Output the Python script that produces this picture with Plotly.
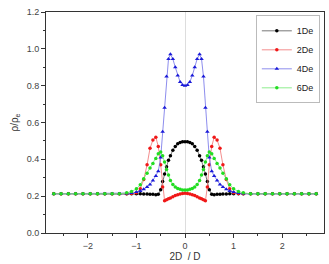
import plotly.graph_objects as go

# shared abscissa 2D/D
x_vals = [-2.70, -2.55, -2.40, -2.25, -2.10, -1.95, -1.80, -1.65, -1.50, -1.35, -1.20, -1.10,
          -1.00, -0.92, -0.85, -0.78, -0.72, -0.66, -0.60, -0.55, -0.50, -0.46, -0.42, -0.38,
          -0.34, -0.30, -0.25, -0.20, -0.15, -0.10, -0.05, 0.00,
          0.05, 0.10, 0.15, 0.20, 0.25, 0.30, 0.34, 0.38, 0.42, 0.46, 0.50, 0.55, 0.60, 0.66,
          0.72, 0.78, 0.85, 0.92, 1.00, 1.10, 1.20, 1.35, 1.50, 1.65, 1.80, 1.95, 2.10, 2.25,
          2.40, 2.55, 2.70]

y_1de = [0.213, 0.213, 0.213, 0.213, 0.213, 0.213, 0.213, 0.213, 0.213, 0.213, 0.213, 0.213,
         0.213, 0.213, 0.212, 0.212, 0.211, 0.210, 0.208, 0.210, 0.235, 0.280, 0.320, 0.360,
         0.395, 0.420, 0.450, 0.470, 0.485, 0.492, 0.495, 0.496,
         0.495, 0.492, 0.485, 0.470, 0.450, 0.420, 0.395, 0.360, 0.320, 0.280, 0.235, 0.210,
         0.208, 0.210, 0.211, 0.212, 0.212, 0.213, 0.213, 0.213, 0.213, 0.213, 0.213, 0.213,
         0.213, 0.213, 0.213, 0.213, 0.213, 0.213, 0.213]

y_2de = [0.213, 0.213, 0.213, 0.213, 0.213, 0.213, 0.213, 0.213, 0.213, 0.213, 0.213, 0.214,
         0.218, 0.240, 0.290, 0.370, 0.460, 0.505, 0.520, 0.470, 0.370, 0.250, 0.175, 0.180,
         0.186, 0.190, 0.197, 0.203, 0.208, 0.212, 0.215, 0.216,
         0.215, 0.212, 0.208, 0.203, 0.197, 0.190, 0.186, 0.180, 0.175, 0.250, 0.370, 0.470,
         0.520, 0.505, 0.460, 0.370, 0.290, 0.240, 0.218, 0.214, 0.213, 0.213, 0.213, 0.213,
         0.213, 0.213, 0.213, 0.213, 0.213, 0.213, 0.213]

y_4de = [0.213, 0.213, 0.213, 0.213, 0.213, 0.213, 0.213, 0.213, 0.213, 0.213, 0.214, 0.217,
         0.222, 0.228, 0.237, 0.250, 0.263, 0.285, 0.310, 0.335, 0.410, 0.550, 0.680, 0.850,
         0.945, 0.970, 0.945, 0.900, 0.855, 0.820, 0.803, 0.800,
         0.803, 0.820, 0.855, 0.900, 0.945, 0.970, 0.945, 0.850, 0.680, 0.550, 0.410, 0.335,
         0.310, 0.285, 0.263, 0.250, 0.237, 0.228, 0.222, 0.217, 0.214, 0.213, 0.213, 0.213,
         0.213, 0.213, 0.213, 0.213, 0.213, 0.213, 0.213]

y_6de = [0.213, 0.213, 0.213, 0.213, 0.213, 0.213, 0.213, 0.213, 0.213, 0.213, 0.218, 0.225,
         0.240, 0.262, 0.295, 0.325, 0.353, 0.378, 0.405, 0.430, 0.440, 0.420, 0.385, 0.345,
         0.315, 0.285, 0.263, 0.250, 0.242, 0.237, 0.234, 0.233,
         0.234, 0.237, 0.242, 0.250, 0.263, 0.285, 0.315, 0.345, 0.385, 0.420, 0.440, 0.430,
         0.405, 0.378, 0.353, 0.325, 0.295, 0.262, 0.240, 0.225, 0.218, 0.213, 0.213, 0.213,
         0.213, 0.213, 0.213, 0.213, 0.213, 0.213, 0.213]

series_names = ["1De", "2De", "4De", "6De"]
series_vals = [y_1de, y_2de, y_4de, y_6de]
series_colors = ["#000000", "#f01818", "#1a1ad8", "#22dd22"]
series_line_colors = ["#555555", "#f07070", "#7070e8", "#70e870"]
series_symbols = ["circle", "circle", "triangle-up", "circle"]

fig = go.Figure()
for name, vals, col, lcol, sym in zip(series_names, series_vals, series_colors,
                                       series_line_colors, series_symbols):
    fig.add_trace(go.Scatter(
        x=x_vals, y=vals, name=name, mode="lines+markers",
        line=dict(color=lcol, width=0.8),
        marker=dict(color=col, symbol=sym, size=4 if sym == "triangle-up" else 3.5),
    ))

axis_common = dict(
    showline=True, linecolor="#333333", linewidth=1, mirror=True,
    ticks="outside", ticklen=4, tickcolor="#333333", tickwidth=1,
    showgrid=False,
    tickfont=dict(family="Liberation Sans, Arial, sans-serif", size=9, color="#444444"),
)

fig.update_xaxes(
    range=[-2.86, 2.86], tickmode="linear", tick0=0, dtick=1,
    minor=dict(dtick=0.5, ticks="outside", ticklen=2, tickcolor="#333333", showgrid=False),
    zeroline=True, zerolinecolor="#dddddd", zerolinewidth=1,
    title=dict(text="2D  / D", standoff=2,
               font=dict(family="Liberation Sans, Arial, sans-serif", size=10, color="#333333")),
    **axis_common,
)
fig.update_yaxes(
    range=[0, 1.2], tickmode="linear", tick0=0, dtick=0.2, tickformat=".1f",
    minor=dict(dtick=0.1, ticks="outside", ticklen=2, tickcolor="#333333", showgrid=False),
    zeroline=False,
    title=dict(text="ρ/ρ<sub>e</sub>", standoff=6,
               font=dict(family="Liberation Sans, Arial, sans-serif", size=10, color="#333333")),
    **axis_common,
)

fig.update_layout(
    width=329, height=264,
    margin=dict(l=46, r=4, t=12, b=29),
    paper_bgcolor="white", plot_bgcolor="white",
    showlegend=True,
    legend=dict(
        x=0.985, y=0.985, xanchor="right", yanchor="top",
        bgcolor="white", bordercolor="#bbbbbb", borderwidth=1,
        font=dict(family="Liberation Sans, Arial, sans-serif", size=9, color="#222222"),
        itemwidth=30, tracegroupgap=0,
    ),
)

fig.write_html("out.html")
